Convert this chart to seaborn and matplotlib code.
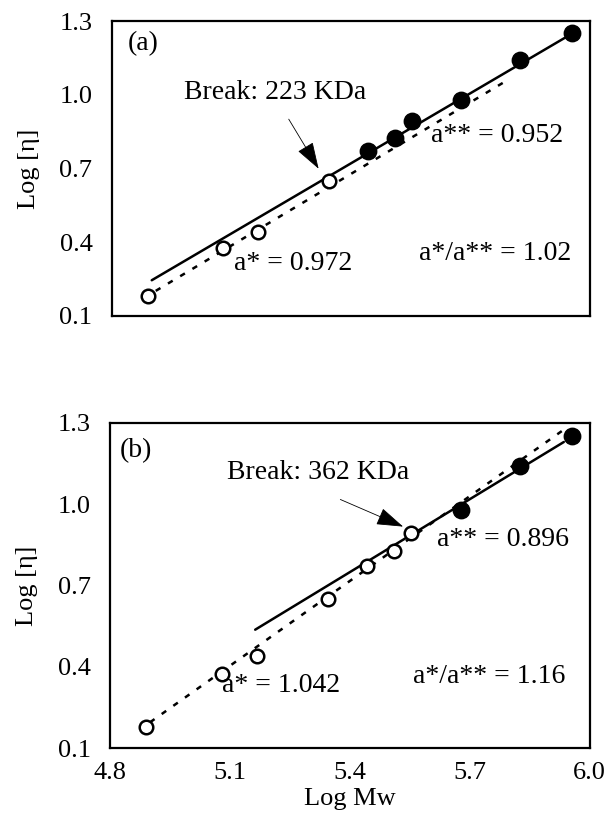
import numpy as np
import pandas as pd
import seaborn as sns
import matplotlib
matplotlib.use("Agg")
import matplotlib.pyplot as plt

sns.set_theme(style="white")
plt.rcParams['font.family'] = ['Liberation Serif', 'DejaVu Serif']
plt.rcParams['text.color'] = 'black'
plt.rcParams['axes.labelcolor'] = 'black'

# points, same for both panels
log_mw = [4.89, 5.079, 5.167, 5.345, 5.443, 5.511, 5.553, 5.677, 5.826, 5.955]
log_eta = [0.18, 0.375, 0.44, 0.65, 0.77, 0.826, 0.892, 0.98, 1.142, 1.25]

# how many of the low-Mw points are open circles (before the break)
n_open = {"a": 4, "b": 7}

# fitted lines: slope, intercept, x start, x end
fit_low = {"a": (0.972, -4.571, 4.91, 5.80), "b": (1.042, -4.910, 4.90, 5.94)}
fit_high = {"a": (0.952, -4.420, 4.90, 5.956), "b": (0.896, -4.089, 5.163, 5.935)}

panel_tag = {"a": "(a)", "b": "(b)"}
break_text = {"a": "Break: 223 KDa", "b": "Break: 362 KDa"}
a_low_text = {"a": "a* = 0.972", "b": "a* = 1.042"}
a_high_text = {"a": "a** = 0.952", "b": "a** = 0.896"}
ratio_text = {"a": "a*/a** = 1.02", "b": "a*/a** = 1.16"}

# text anchors (data coords)
tag_pos = {"a": (4.84, 1.21), "b": (4.825, 1.196)}
break_pos = {"a": (4.98, 1.009), "b": (5.092, 1.118)}
arrow_tail = {"a": (5.244, 0.901), "b": (5.376, 1.017)}
arrow_head = {"a": (5.319, 0.699), "b": (5.533, 0.917)}
a_low_pos = {"a": (5.106, 0.314), "b": (5.080, 0.332)}
a_high_pos = {"a": (5.60, 0.834), "b": (5.617, 0.871)}
ratio_pos = {"a": (5.570, 0.354), "b": (5.558, 0.365)}

x_ticks = [4.8, 5.1, 5.4, 5.7, 6.0]
y_ticks = [0.1, 0.4, 0.7, 1.0, 1.3]

fs = 19
fs_note = 20
fig = plt.figure(figsize=(6.15, 8.16), dpi=100)
axes = {
    "a": fig.add_axes([0.182, 0.613, 0.777, 0.361]),
    "b": fig.add_axes([0.179, 0.083, 0.780, 0.399]),
}

for key, ax in axes.items():
    df = pd.DataFrame({"x": log_mw, "y": log_eta})
    df["kind"] = ["open"] * n_open[key] + ["filled"] * (len(df) - n_open[key])

    # fit lines
    for (slope, icpt, x0, x1), style in [(fit_low[key], (0, (2.2, 3.5))), (fit_high[key], "-")]:
        xs = np.array([x0, x1])
        line = pd.DataFrame({"x": xs, "y": slope * xs + icpt})
        sns.lineplot(data=line, x="x", y="y", ax=ax, color="black", lw=1.8,
                     linestyle=style, zorder=2)

    op = df[df["kind"] == "open"]
    fl = df[df["kind"] == "filled"]
    sns.scatterplot(data=op, x="x", y="y", ax=ax, marker="o", s=95,
                    facecolor="white", edgecolor="black", linewidth=1.8, zorder=3)
    sns.scatterplot(data=fl, x="x", y="y", ax=ax, marker="o", s=140,
                    color="black", edgecolor="black", linewidth=1, zorder=3)

    ax.text(*tag_pos[key], panel_tag[key], fontsize=fs_note, va="center", ha="left")
    ax.text(*break_pos[key], break_text[key], fontsize=fs_note, va="center", ha="left")
    ax.text(*a_low_pos[key], a_low_text[key], fontsize=fs_note, va="center", ha="left")
    ax.text(*a_high_pos[key], a_high_text[key], fontsize=fs_note, va="center", ha="left")
    ax.text(*ratio_pos[key], ratio_text[key], fontsize=fs_note, va="center", ha="left")

    ax.annotate("", xy=arrow_head[key], xytext=arrow_tail[key],
                arrowprops=dict(arrowstyle="-|>,head_length=0.85,head_width=0.28",
                                color="black", lw=0.6, mutation_scale=20,
                                shrinkA=0, shrinkB=0))

    ax.set_xlim(4.8, 6.0)
    ax.set_ylim(0.1, 1.3)
    ax.set_yticks(y_ticks)
    ax.set_yticklabels([f"{v:.1f}" for v in y_ticks])
    ax.set_xticks(x_ticks)
    ax.tick_params(axis="both", direction="in", length=3, width=0.8,
                   labelsize=fs, colors="black")
    ax.tick_params(axis="y", pad=14)
    ax.tick_params(axis="x", pad=10)
    ax.set_ylabel("Log [η]", fontsize=fs, labelpad=14)
    for sp in ax.spines.values():
        sp.set_color("black")
        sp.set_linewidth(1.6)

axes["a"].set_xticklabels([])
axes["a"].set_xlabel("")
axes["b"].set_xticklabels([f"{v:.1f}" for v in x_ticks])
axes["b"].set_xlabel("Log Mw", fontsize=fs, labelpad=3)

plt.savefig("out.png", dpi=100)
plt.close()
